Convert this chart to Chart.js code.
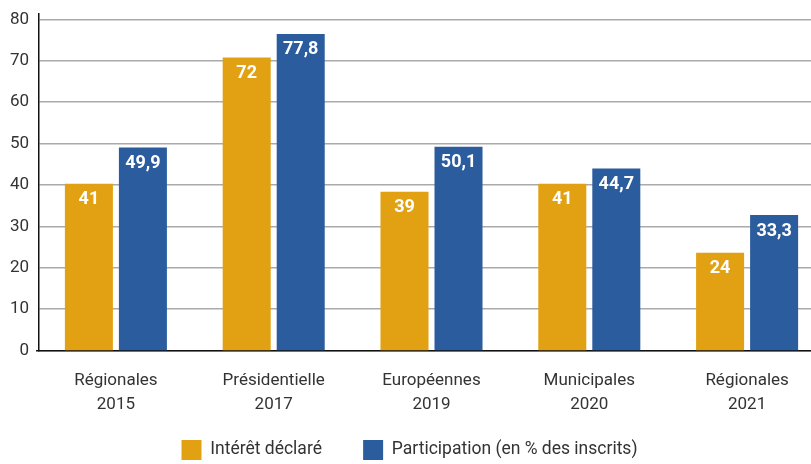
<!DOCTYPE html>
<html><head><meta charset="utf-8">
<script src="https://cdn.jsdelivr.net/npm/chart.js@4.4.0/dist/chart.umd.min.js"></script>
<style>html,body{margin:0;padding:0;background:#fff;overflow:hidden}#wrap{width:811px;height:464px;position:relative}</style>
</head><body><div id="wrap"><canvas id="c" width="811" height="464"></canvas></div>
<script>
const categories = [['Régionales','2015'],['Présidentielle','2017'],['Européennes','2019'],['Municipales','2020'],['Régionales','2021']];
const interet = [41, 72, 39, 41, 24];
const participation = [49.9, 77.8, 50.1, 44.7, 33.3];
const seriesNames = ['Intérêt déclaré', 'Participation (en % des inscrits)'];
const yTicks = [0, 10, 20, 30, 40, 50, 60, 70, 80];
const colors = ['#E2A013', '#2B5D9E'];

const fmt = v => String(v).replace('.', ',');

const valueLabels = {
  id: 'valueLabels',
  afterDatasetsDraw(chart) {
    const ctx = chart.ctx;
    ctx.save();
    ctx.fillStyle = '#ffffff';
    ctx.font = 'bold 18px Roboto';
    ctx.textAlign = 'center';
    ctx.textBaseline = 'middle';
    chart.data.datasets.forEach((ds, di) => {
      const meta = chart.getDatasetMeta(di);
      meta.data.forEach((el, i) => {
        ctx.fillText(fmt(ds.data[i]), el.x, el.y + 16);
      });
    });
    ctx.restore();
  }
};

// category band extends slightly past the right edge of the picture, as in the reference
const widenX = {
  id: 'widenX',
  afterLayout(chart) {
    const x = chart.scales.x;
    x.left = 37;
    x.right = 826;
    x.width = x.right - x.left;
    x.configure();
  }
};

const defaultGen = Chart.defaults.plugins.legend.labels.generateLabels;

new Chart(document.getElementById('c'), {
  type: 'bar',
  data: {
    labels: categories,
    datasets: [
      { label: seriesNames[0], data: interet, backgroundColor: colors[0], borderWidth: 0, yAxisID: 'yb' },
      { label: seriesNames[1], data: participation, backgroundColor: colors[1], borderWidth: 0, yAxisID: 'yb' }
    ]
  },
  options: {
    responsive: false,
    animation: false,
    devicePixelRatio: 1,
    categoryPercentage: 0.6846,
    barPercentage: 0.889,
    layout: { padding: { top: 14, left: 8, right: 0, bottom: -6 } },
    plugins: {
      tooltip: { enabled: false },
      legend: {
        position: 'bottom',
        labels: {
          boxWidth: 20, boxHeight: 20, padding: 19,
          color: '#333', font: { family: 'Roboto', size: 17.5 },
          generateLabels(chart) {
            const items = defaultGen(chart);
            items[0].text = items[0].text + '\u2003 ';
            items.forEach(it => { it.lineWidth = 0; });
            return items;
          }
        }
      }
    },
    scales: {
      x: {
        grid: { display: false, drawTicks: false },
        border: { display: true, color: '#111', width: 1.5 },
        ticks: { color: '#333', padding: 18, font: { family: 'Roboto', size: 17, lineHeight: '24px' }, maxRotation: 0, autoSkip: false },
        afterFit(s) { s.height = 70.5; s.paddingLeft = 0; s.paddingRight = 0; }
      },
      y: {
        position: 'left',
        min: 0, max: 81.27,
        afterBuildTicks(s) { s.ticks = yTicks.map(v => ({ value: v })); },
        grid: { color: '#aaaaaa', lineWidth: 1.5, drawTicks: false },
        border: { display: true, color: '#111', width: 1.5 },
        ticks: { color: '#333', padding: 10, font: { family: 'Roboto', size: 17 } },
        afterFit(s) { s.width = 31; s.paddingTop = 0; s.paddingBottom = 0; }
      },
      yb: {
        position: 'left',
        display: false,
        min: 0, max: 82.7
      }
    }
  },
  plugins: [valueLabels, widenX]
});
</script></body></html>
